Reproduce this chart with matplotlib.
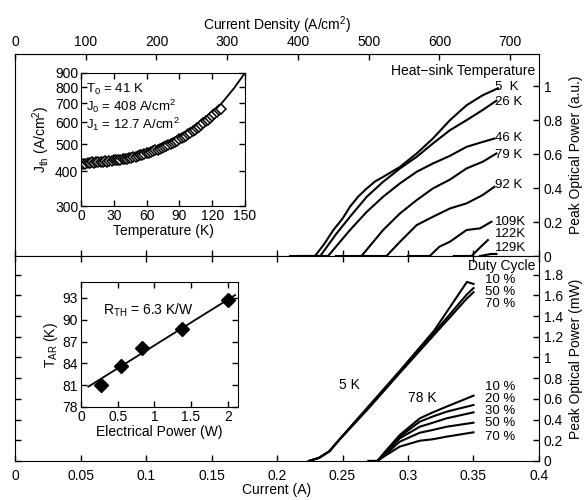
"""
Peak optical power vs current: heat-sink temperature series (top) and
duty-cycle series (bottom), with J_th(T) and T_AR(P_el) insets.
"""

import matplotlib
matplotlib.use("Agg")
import matplotlib.pyplot as plt

plt.rcParams["font.family"] = ["Liberation Sans", "DejaVu Sans"]
plt.rcParams["mathtext.default"] = "regular"
plt.rcParams["font.size"] = 10

# ----------------------------------------------------------------------
# data
# ----------------------------------------------------------------------
J_PER_A = 1852.0   # A/cm^2 per A (top axis vs bottom axis)

# top panel: heat-sink temperature curves, current (A) / power (a.u.)
hs_labels = ["5  K", "26 K", "46 K", "79 K", "92 K", "109K", "122K", "129K"]
hs_label_y = [0.996, 0.905, 0.694, 0.594, 0.418, 0.202, 0.128, 0.045]
hs_current = [
    [0.21, 0.229, 0.236, 0.243, 0.250, 0.2557, 0.262, 0.2685, 0.275, 0.281,
     0.2939, 0.3066, 0.319, 0.332, 0.3447, 0.357, 0.3687],
    [0.215, 0.233, 0.2455, 0.2557, 0.2685, 0.281, 0.2939, 0.3066, 0.319,
     0.332, 0.3447, 0.357, 0.3675],
    [0.22, 0.239, 0.2557, 0.2685, 0.281, 0.2939, 0.3066, 0.319, 0.332,
     0.3447, 0.357, 0.366],
    [0.245, 0.2645, 0.281, 0.2939, 0.3066, 0.319, 0.332, 0.3447, 0.357, 0.3675],
    [0.265, 0.2836, 0.2939, 0.3066, 0.319, 0.332, 0.3447, 0.357, 0.366],
    [0.30, 0.3166, 0.324, 0.332, 0.3447, 0.355, 0.3637],
    [0.335, 0.3485, 0.355, 0.361],
    [0.355, 0.3635, 0.3675],
]
hs_power = [
    [0.0, 0.0, 0.07, 0.153, 0.22, 0.29, 0.35, 0.398, 0.44, 0.466,
     0.525, 0.604, 0.692, 0.80, 0.888, 0.947, 0.988],
    [0.0, 0.0, 0.133, 0.231, 0.349, 0.437, 0.516, 0.584, 0.663,
     0.741, 0.80, 0.86, 0.915],
    [0.0, 0.0, 0.153, 0.26, 0.349, 0.428, 0.496, 0.545, 0.59,
     0.643, 0.672, 0.692],
    [0.0, 0.0, 0.153, 0.251, 0.329, 0.398, 0.45, 0.516, 0.555, 0.604],
    [0.0, 0.0, 0.084, 0.182, 0.231, 0.28, 0.31, 0.359, 0.408],
    [0.0, 0.0, 0.055, 0.084, 0.153, 0.163, 0.202],
    [0.0, 0.0, 0.05, 0.094],
    [0.0, 0.012, 0.012],
]

# bottom panel: duty-cycle curves, current (A) / power (mW)
dc5_current = [0.2243, 0.232, 0.240, 0.2473, 0.270, 0.2937, 0.320, 0.345, 0.35]
dc5_labels = ["10 %", "50 %", "70 %"]
dc5_label_y = [1.75, 1.635, 1.52]
dc5_power = [
    [0.0, 0.03, 0.094, 0.203, 0.53, 0.87, 1.26, 1.73, 1.71],
    [0.0, 0.03, 0.094, 0.203, 0.52, 0.86, 1.24, 1.61, 1.67],
    [0.0, 0.03, 0.094, 0.200, 0.51, 0.85, 1.22, 1.57, 1.63],
]
dc78_current = [0.27, 0.2766, 0.2825, 0.2937, 0.309, 0.319, 0.3294, 0.35]
dc78_labels = ["10 %", "20 %", "30 %", "50 %", "70 %"]
dc78_label_y = [0.712, 0.599, 0.486, 0.364, 0.235]
dc78_power = [
    [0.0, 0.0, 0.09, 0.251, 0.412, 0.47, 0.525, 0.631],
    [0.0, 0.0, 0.08, 0.235, 0.38, 0.43, 0.476, 0.541],
    [0.0, 0.0, 0.07, 0.219, 0.331, 0.37, 0.412, 0.47],
    [0.0, 0.0, 0.06, 0.187, 0.273, 0.30, 0.331, 0.37],
    [0.0, 0.0, 0.05, 0.139, 0.196, 0.21, 0.235, 0.277],
]

# inset 1: threshold current density vs temperature
jth_T = [2, 4, 6, 8, 10, 12, 14, 16, 18, 20, 22, 24, 26, 28, 30, 32, 34, 36,
         38, 40, 42, 44, 46, 48, 50, 52, 54, 56, 58, 60, 62, 64, 66, 68, 70,
         72, 74, 76, 78, 80, 82, 84, 86, 88, 90, 92, 94, 96, 98, 100, 102,
         104, 106, 108, 110, 112, 114, 116, 118, 120, 122, 124, 126, 128]
jth_J = [426, 424, 429, 427, 431, 428, 432, 430, 433, 431, 434, 433, 436, 435,
         437, 437, 439, 440, 441, 443, 444, 446, 447, 450, 451, 454, 456, 458,
         461, 463, 466, 468, 472, 475, 478, 482, 485, 489, 493, 497, 501, 506,
         510, 515, 520, 525, 531, 537, 543, 550, 556, 563, 571, 578, 586, 595,
         603, 612, 621, 631, 641, 651, 661, 668]
fit_T = [0, 10, 20, 30, 40, 50, 60, 70, 80, 90, 100, 110, 120, 130, 140, 150]
fit_J = [421, 424, 429, 434, 442, 451, 463, 478, 497, 522, 554, 594, 645,
         711, 794, 901]

# inset 2: active-region temperature vs electrical power
pel = [0.27, 0.55, 0.83, 1.38, 2.0]
tar = [81.0, 83.6, 86.1, 88.7, 92.7]
rth_x = [0.1, 2.1]
rth_y = [80.8, 93.4]

x_ticks = [0, 0.05, 0.1, 0.15, 0.2, 0.25, 0.3, 0.35, 0.4]
x_ticklabels = ["0", "0.05", "0.1", "0.15", "0.2", "0.25", "0.3", "0.35", "0.4"]
top_ticks = [0, 0.2, 0.4, 0.6, 0.8, 1.0]
top_ticklabels = ["0", "0.2", "0.4", "0.6", "0.8", "1"]
bot_ticks = [0, 0.2, 0.4, 0.6, 0.8, 1.0, 1.2, 1.4, 1.6, 1.8]
bot_ticklabels = ["0", "0.2", "0.4", "0.6", "0.8", "1", "1.2", "1.4", "1.6", "1.8"]

LW = 1.5
TICK = dict(direction="in", length=4, width=1)
STACK_FS = 9.5   # tightly stacked curve labels

# ----------------------------------------------------------------------
# figure
# ----------------------------------------------------------------------
fig = plt.figure(figsize=(5.84, 5.0), dpi=100)
left, width = 15 / 584, 524 / 584
ax_top = fig.add_axes([left, 0.488, width, 0.404])
ax_bot = fig.add_axes([left, 0.078, width, 0.410])

# --- top panel ---
for cur, pw in zip(hs_current, hs_power):
    ax_top.plot(cur, pw, color="black", lw=LW)
for lab, yy in zip(hs_labels, hs_label_y):
    ax_top.text(0.3665, yy, lab, ha="left", va="center", fontsize=STACK_FS)
ax_top.text(0.397, 1.09, "Heat\u2212sink Temperature", ha="right", va="center")
ax_top.set_xlim(0, 0.4)
ax_top.set_ylim(0, 1.19)
ax_top.set_xticks(x_ticks)
ax_top.tick_params(axis="x", labelbottom=False, **TICK)
ax_top.yaxis.tick_right()
ax_top.yaxis.set_label_position("right")
ax_top.set_yticks(top_ticks)
ax_top.set_yticklabels(top_ticklabels)
ax_top.tick_params(axis="y", **TICK)
ax_top.set_ylabel("Peak Optical Power (a.u.)")

sec = ax_top.secondary_xaxis("top", functions=(lambda i: i * J_PER_A,
                                               lambda j: j / J_PER_A))
sec.set_xticks([0, 100, 200, 300, 400, 500, 600, 700])
sec.tick_params(**TICK)
sec.set_xlabel("Current Density (A/cm$^2$)")

# --- bottom panel ---
for pw in dc5_power:
    ax_bot.plot(dc5_current, pw, color="black", lw=LW)
for pw in dc78_power:
    ax_bot.plot(dc78_current, pw, color="black", lw=LW)
for lab, yy in zip(dc5_labels, dc5_label_y):
    ax_bot.text(0.3585, yy, lab, ha="left", va="center", fontsize=STACK_FS)
for lab, yy in zip(dc78_labels, dc78_label_y):
    ax_bot.text(0.3585, yy, lab, ha="left", va="center", fontsize=STACK_FS)
ax_bot.text(0.397, 1.88, "Duty Cycle", ha="right", va="center")
ax_bot.text(0.2475, 0.73, "5 K", ha="left", va="center")
ax_bot.text(0.300, 0.61, "78 K", ha="left", va="center")
ax_bot.set_xlim(0, 0.4)
ax_bot.set_ylim(0, 1.98)
ax_bot.set_xticks(x_ticks)
ax_bot.set_xticklabels(x_ticklabels)
ax_bot.tick_params(axis="x", top=True, pad=6, **TICK)
ax_bot.set_xlabel("Current (A)", labelpad=0)
ax_bot.yaxis.tick_right()
ax_bot.yaxis.set_label_position("right")
ax_bot.set_yticks(bot_ticks)
ax_bot.set_yticklabels(bot_ticklabels)
ax_bot.tick_params(axis="y", left=True, right=True, **TICK)
ax_bot.set_ylabel("Peak Optical Power (mW)")

# --- inset 1: J_th(T) ---
in1 = fig.add_axes([81 / 584, 0.588, 164 / 584, 0.266])
in1.plot(fit_T, fit_J, color="black", lw=1.3)
in1.plot(jth_T, jth_J, ls="none", marker="D", ms=5, mfc="white",
         mec="black", mew=1.1)
in1.set_yscale("log")
in1.set_xlim(0, 150)
in1.set_ylim(300, 900)
in1.set_xticks([0, 30, 60, 90, 120, 150])
in1.set_yticks([300, 400, 500, 600, 700, 800, 900])
in1.set_yticklabels(["300", "400", "500", "600", "700", "800", "900"])
in1.minorticks_off()
in1.tick_params(top=True, right=True, pad=2, **TICK)
in1.set_xlabel("Temperature (K)", labelpad=1)
in1.set_ylabel("J$_{th}$ (A/cm$^2$)", labelpad=2)
in1.text(0.03, 0.88, "T$_0$ = 41 K", transform=in1.transAxes, va="center",
         fontsize=STACK_FS)
in1.text(0.03, 0.75, "J$_0$ = 408 A/cm$^2$", transform=in1.transAxes,
         va="center", fontsize=STACK_FS)
in1.text(0.03, 0.615, "J$_1$ = 12.7 A/cm$^2$", transform=in1.transAxes,
         va="center", fontsize=STACK_FS)

# --- inset 2: T_AR(P_el) ---
in2 = fig.add_axes([81 / 584, 0.186, 157 / 584, 0.250])
in2.plot(rth_x, rth_y, color="black", lw=1.3)
in2.plot(pel, tar, ls="none", marker="D", ms=7, color="black")
in2.set_xlim(0, 2.14)
in2.set_ylim(78, 95.2)
in2.set_xticks([0, 0.5, 1, 1.5, 2])
in2.set_xticklabels(["0", "0.5", "1", "1.5", "2"])
in2.set_yticks([78, 81, 84, 87, 90, 93])
in2.tick_params(top=True, right=True, pad=2, **TICK)
in2.set_xlabel("Electrical Power (W)", labelpad=1)
in2.set_ylabel("T$_{AR}$ (K)", labelpad=2)
in2.text(0.3, 91.3, "R$_{TH}$ = 6.3 K/W", va="center")

fig.savefig("out.png", dpi=100)
plt.close(fig)
